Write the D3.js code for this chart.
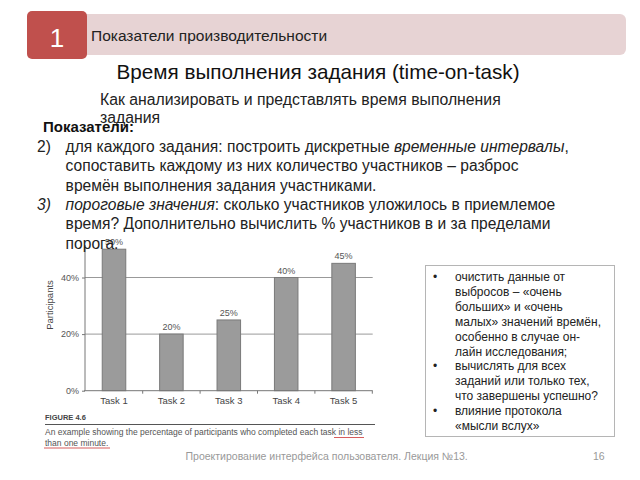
<!DOCTYPE html>
<html><head><meta charset="utf-8">
<script src="https://cdn.jsdelivr.net/npm/d3@7"></script>
<style>body{margin:0;background:#fff}svg{display:block}text{font-family:"Liberation Sans",Arial,sans-serif}</style>
</head><body>
<svg id="s" width="640" height="480"></svg>
<script>
const tasks = ["Task 1","Task 2","Task 3","Task 4","Task 5"];
const values = [0.50,0.20,0.25,0.40,0.45];
const yTicks = [0,0.2,0.4];
const boxLines = [
 {b:true,t:"очистить данные от"},{b:false,t:"выбросов – «очень"},{b:false,t:"больших» и «очень"},
 {b:false,t:"малых» значений времён,"},{b:false,t:"особенно в случае он-"},{b:false,t:"лайн исследования;"},
 {b:true,t:"вычислять для всех"},{b:false,t:"заданий или только тех,"},{b:false,t:"что завершены успешно?"},
 {b:true,t:"влияние протокола"},{b:false,t:"«мысли вслух»"}];

const svg = d3.select("#s");

// header
svg.append("rect").attr("x",60).attr("y",14).attr("width",566).attr("height",41).attr("rx",6).attr("fill","#e7d3d4");
svg.append("rect").attr("x",27).attr("y",11).attr("width",60).attr("height",48).attr("rx",5).attr("fill","#c0504d");
svg.append("text").attr("x",57).attr("y",47).attr("text-anchor","middle").attr("fill","#fff").attr("font-size",26).text("1");
svg.append("text").attr("x",91).attr("y",40.5).attr("fill","#222").attr("font-size",15.5).text("Показатели производительности");

svg.append("text").attr("x",318).attr("y",78.5).attr("text-anchor","middle").attr("fill","#111").attr("font-size",20.7).text("Время выполнения задания (time-on-task)");
svg.append("text").attr("x",100).attr("y",104.5).attr("fill","#222").attr("font-size",15.8).text("Как анализировать и представлять время выполнения");
svg.append("text").attr("x",100).attr("y",122.5).attr("fill","#222").attr("font-size",15.8).text("задания");

// chart
const x = d3.scaleBand().domain(tasks).range([85.3,372.3]).paddingInner(0.59).paddingOuter(0.295);
const y = d3.scaleLinear().domain([0,0.5]).range([390.7,249.2]);
const g = svg.append("g");
g.selectAll(".grid").data(yTicks.filter(d=>d>0)).enter().append("line")
 .attr("x1",85).attr("x2",372.7).attr("y1",d=>y(d)).attr("y2",d=>y(d)).attr("stroke","#999").attr("stroke-width",1);
g.selectAll(".bar").data(values).enter().append("rect")
 .attr("x",(d,i)=>x(tasks[i])).attr("y",d=>y(d)).attr("width",x.bandwidth()).attr("height",d=>y(0)-y(d))
 .attr("fill","#9b9b9b").attr("stroke","#7a7a7a").attr("stroke-width",1);
g.selectAll(".vl").data(values).enter().append("text")
 .attr("x",(d,i)=>x(tasks[i])+x.bandwidth()/2).attr("y",d=>y(d)-4).attr("text-anchor","middle")
 .attr("font-size",9).attr("fill","#555").text(d=>Math.round(d*100)+"%");
// axes
const yAxis = d3.axisLeft(y).tickValues(yTicks).tickFormat(d=>Math.round(d*100)+"%").tickSize(3).tickSizeOuter(0);
const ya = g.append("g").attr("transform","translate(85,0)").call(yAxis);
ya.select(".domain").remove();
ya.append("line").attr("x1",0).attr("x2",0).attr("y1",y(0)).attr("y2",245).attr("stroke","#777");
ya.selectAll(".tick line").attr("stroke","#777");
ya.selectAll(".tick text").attr("font-size",9).attr("fill","#555").attr("font-family","Liberation Sans, Arial, sans-serif");
const xAxis = d3.axisBottom(x).tickSize(0).tickSizeOuter(0);
const xa = g.append("g").attr("transform",`translate(0,${y(0)})`).call(xAxis);
xa.select(".domain").attr("stroke","#777").attr("d","M84,0H372.7");
xa.selectAll(".tick text").attr("font-size",9.5).attr("fill","#444").attr("dy","1.1em").attr("font-family","Liberation Sans, Arial, sans-serif");
const bounds = tasks.slice(1).map(t=>x(t)-x.step()*x.paddingInner()/2).concat([372.3]);
xa.selectAll(".bt").data(bounds).enter().append("line").attr("x1",d=>d).attr("x2",d=>d).attr("y1",0).attr("y2",3).attr("stroke","#777");
g.append("text").attr("transform","translate(53,305) rotate(-90)").attr("text-anchor","middle").attr("font-size",9.5).attr("fill","#444").text("Participants");

// caption
svg.append("text").attr("x",45).attr("y",420).attr("font-size",7.5).attr("font-weight","bold").attr("fill","#444").text("FIGURE 4.6");
svg.append("line").attr("x1",45).attr("x2",375).attr("y1",424.5).attr("y2",424.5).attr("stroke","#555").attr("stroke-width",1);
svg.append("text").attr("x",45).attr("y",434.5).attr("font-size",8.5).attr("fill","#555").text("An example showing the percentage of participants who completed each task in less");
svg.append("text").attr("x",45).attr("y",445.5).attr("font-size",8.5).attr("fill","#555").text("than one minute.");
svg.append("line").attr("x1",334).attr("x2",364).attr("y1",437.5).attr("y2",437.5).attr("stroke","#c33").attr("stroke-width",0.8);
svg.append("line").attr("x1",44).attr("x2",110).attr("y1",448).attr("y2",448).attr("stroke","#c33").attr("stroke-width",0.8);

// body text
svg.append("text").attr("x",43).attr("y",132).attr("font-size",15).attr("font-weight","bold").attr("fill","#111").text("Показатели:");
const fs=15.6, lh=19.3, y0=152;
const t1 = svg.append("text").attr("x",65.6).attr("y",y0).attr("font-size",fs).attr("fill","#222");
t1.append("tspan").text("для каждого задания: построить дискретные ");
t1.append("tspan").attr("font-style","italic").text("временные интервалы");
t1.append("tspan").text(",");
svg.append("text").attr("x",37).attr("y",y0).attr("font-size",fs).attr("fill","#222").text("2)");
svg.append("text").attr("x",65.6).attr("y",y0+lh).attr("font-size",fs).attr("fill","#222").text("сопоставить каждому из них количество участников – разброс");
svg.append("text").attr("x",65.6).attr("y",y0+2*lh).attr("font-size",fs).attr("fill","#222").text("времён выполнения задания участниками.");
svg.append("text").attr("x",37).attr("y",y0+3*lh).attr("font-size",fs).attr("font-style","italic").attr("fill","#222").text("3)");
const t4 = svg.append("text").attr("x",65.6).attr("y",y0+3*lh).attr("font-size",fs).attr("fill","#222");
t4.append("tspan").attr("font-style","italic").text("пороговые значения");
t4.append("tspan").text(": сколько участников уложилось в приемлемое");
svg.append("text").attr("x",65.6).attr("y",y0+4*lh).attr("font-size",fs).attr("fill","#222").text("время? Дополнительно вычислить % участников в и за пределами");
svg.append("text").attr("x",65.6).attr("y",y0+5*lh).attr("font-size",fs).attr("fill","#222").text("порога.");

// box
svg.append("rect").attr("x",425.5).attr("y",265.5).attr("width",189).attr("height",171).attr("fill","#fff").attr("stroke","#b5b5b5");
const bl = svg.append("g");
boxLines.forEach((l,i)=>{
  const yy = 276.7 + i*14.93 + 4.2;
  if(l.b) bl.append("text").attr("x",433).attr("y",yy).attr("font-size",12).attr("fill","#222").text("•");
  bl.append("text").attr("x",455).attr("y",yy).attr("font-size",12).attr("fill","#222").text(l.t);
});

// footer
svg.append("text").attr("x",185.5).attr("y",460).attr("font-size",10.5).attr("fill","#999").text("Проектирование интерфейса пользователя. Лекция №13.");
svg.append("text").attr("x",593).attr("y",460).attr("font-size",10.5).attr("fill","#999").text("16");
</script>
</body></html>
